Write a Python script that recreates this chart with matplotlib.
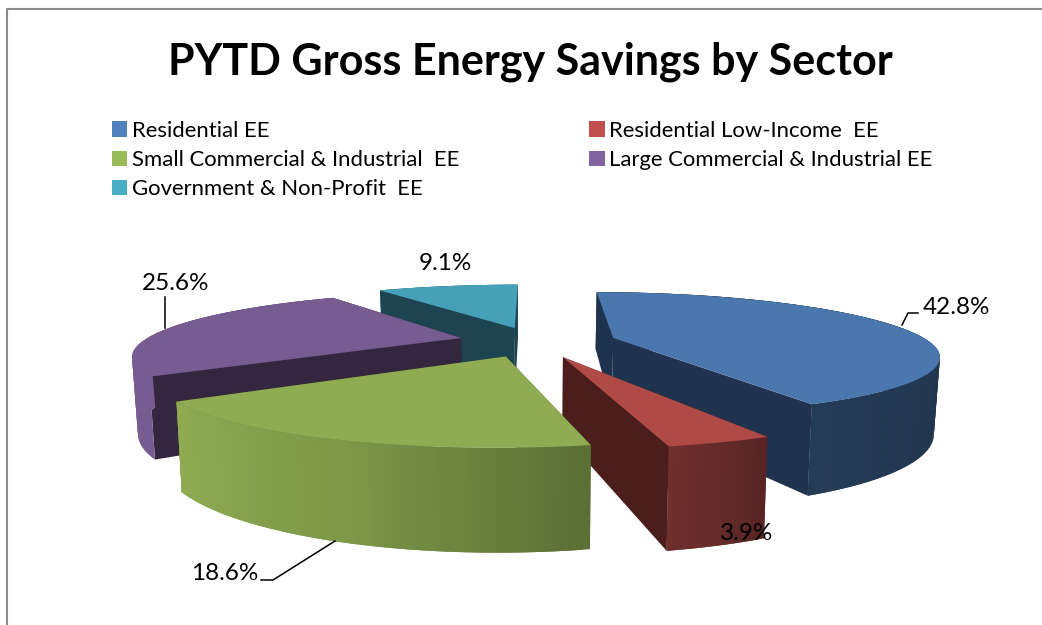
import numpy as np
import matplotlib
matplotlib.use("Agg")
import matplotlib.pyplot as plt
from matplotlib.patches import Patch

plt.rcParams['font.family'] = ['Lato', 'DejaVu Sans']

sectors = ["Residential EE", "Residential Low-Income  EE", "Small Commercial & Industrial  EE",
           "Large Commercial & Industrial EE", "Government & Non-Profit  EE"]
shares = [42.8, 3.9, 18.6, 25.6, 9.1]
title = "PYTD Gross Energy Savings by Sector"

top_colors = ["#4A78AE", "#AF4A47", "#8FAC52", "#775C92", "#46A0B8"]
legend_colors = ["#4F81BD", "#C0504D", "#9BBB59", "#8064A2", "#4BACC6"]
cut_colors = ["#1F334E", "#4B1E1C", "#4F6128", "#35263F", "#1D4450"]

# camera, fitted by eye: pixels
cx, cy, radius, thick, vert, depth = 530, 338, 320, 71, 230, 3.9
# how far each slice is pulled out of the pie (ground plane units)
shift = [(.26, 0), (.095, .30), (-.07, .29), (-.215, 0), (-.05, -.177)]
reach = [.97, .97, .97, .98, 1.0]
draw_order = [4, 3, 0, 1, 2]


def project(u, v, down=0.0):
    s = depth / (depth - v)
    # lower points pull slightly towards the middle
    x = cx + u * s * radius * (1 - .015 * down)
    return x, cy + vert * (s - 1) + down * s * thick


def wall_shade(deg):
    return np.interp(deg, [90, 154, 168, 200, 235, 360], [.42, .5, .64, .88, 1, 1])


def scaled(color, k):
    return tuple(np.array(matplotlib.colors.to_rgb(color)) * k)


def wall(ax, a, b, color, z):
    # a, b are (u, v) ends of a vertical wall
    pts = [project(*a), project(*b), project(*b, 1), project(*a, 1)]
    ax.fill(*zip(*pts), color=color, lw=0, zorder=z)


def outer_wall(ax, u, v, degs, color, k_scale, front, z):
    # every strip runs on under the next one, that hides the seams
    for k in range(len(degs) - 1):
        mid = (degs[k] + degs[k + 1]) / 2
        if (90 <= mid <= 270) != front:
            continue
        end = min(k + 2, len(degs) - 1)
        pts = [project(u[j], v[j]) for j in range(k, end + 1)]
        pts += [project(u[j], v[j], 1) for j in range(end, k - 1, -1)]
        ax.fill(*zip(*pts), color=scaled(color, wall_shade(mid) * k_scale), lw=0, zorder=z)


fig = plt.figure(figsize=(10.42, 6.25), dpi=100)
ax = fig.add_axes([0, 0, 1, 1])
ax.set_xlim(0, 1042)
ax.set_ylim(625, 0)
ax.axis("off")

ax.plot([7, 7, 1042], [625, 9, 9], color="#8C8C8C", lw=1.5)

edges = np.concatenate([[0], np.cumsum(shares)]) * 3.6
z = 2
for i in draw_order:
    a0, a1 = edges[i], edges[i + 1]
    eu, ev = shift[i]
    degs = np.linspace(a0, a1, max(int(a1 - a0), 2) + 1)
    u = eu + reach[i] * np.sin(np.radians(degs))
    v = ev - reach[i] * np.cos(np.radians(degs))
    outer_wall(ax, u, v, degs, top_colors[i], .75, False, z)
    z += 1
    # the two cut faces
    wall(ax, (eu, ev), (u[0], v[0]), cut_colors[i], z)
    wall(ax, (eu, ev), (u[-1], v[-1]), cut_colors[i], z)
    z += 1
    outer_wall(ax, u, v, degs, top_colors[i], 1, True, z)
    z += 1
    top = [project(eu, ev)] + [project(p, q) for p, q in zip(u, v)]
    ax.fill(*zip(*top), color=top_colors[i], lw=0, zorder=z)
    z += 1

ax.text(530, 62, title, ha="center", va="center", fontsize=31, fontweight="bold", color="black")

# legend is filled column first, so hand it the rows in that order
col_order = [0, 2, 4, 1, 3]
handles = [Patch(facecolor=legend_colors[i], label=sectors[i]) for i in col_order]
ax.legend(handles=handles, ncol=2, frameon=False, loc="upper left", bbox_to_anchor=(92 / 1042, 1 - 101 / 625),
          fontsize=15.9, handlelength=.7, handleheight=.7, handletextpad=.2, labelspacing=.42, columnspacing=5.9)

label_pos = [(956, 308), (747, 533), (225, 573), (176, 283), (445, 263)]
for share, pos in zip(shares, label_pos):
    ax.text(pos[0], pos[1], f"{share:.1f}%", ha="center", va="center", fontsize=17.5, color="black", zorder=40)

# leader lines
ax.plot([902, 908, 918], [325, 313, 313], color="black", lw=1.1, zorder=40)
ax.plot([165, 165], [297, 328], color="black", lw=1.1, zorder=40)
ax.plot([261, 273, 335], [580, 580, 541], color="black", lw=1.1, zorder=40)

fig.savefig("out.png", dpi=100)
